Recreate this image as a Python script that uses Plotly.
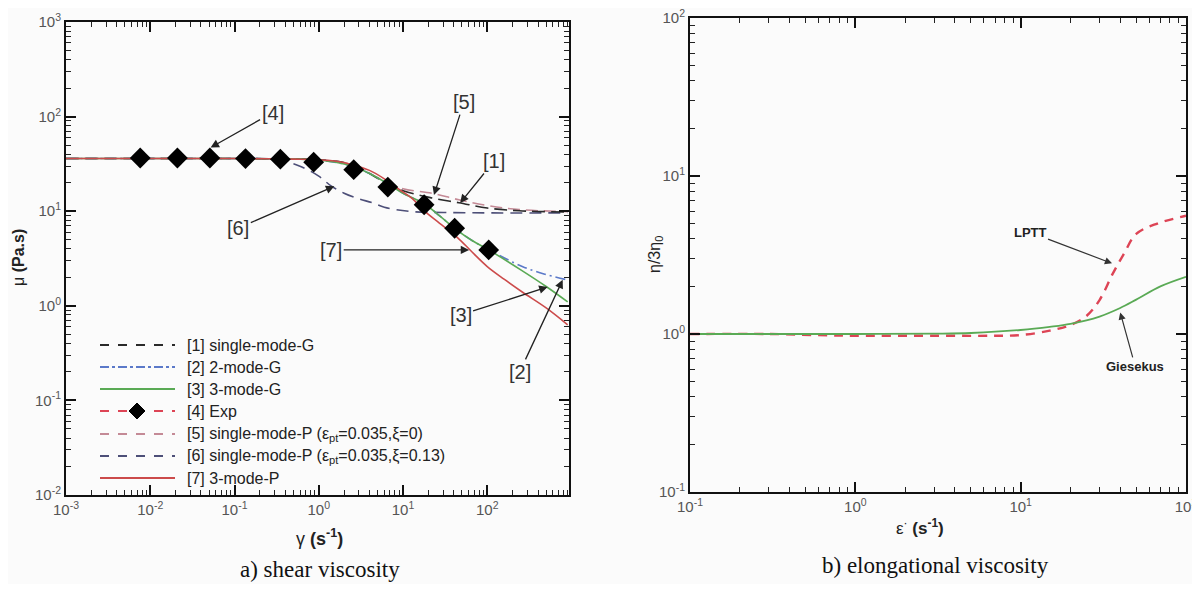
import math
import plotly.graph_objects as go

# ---------------- data: a) shear viscosity ----------------
s1_x = [0.001, 0.01, 0.1, 0.3, 1, 2.5, 5.6, 10, 22, 46, 100, 240, 900]
s1_y = [36, 36, 36, 35.8, 35, 31, 21, 16.5, 13.8, 12.3, 10.8, 10.1, 9.8]

s2_x = [0.001, 0.01, 0.1, 0.3, 0.6, 1, 1.7, 2.6, 4, 6.6, 10, 17.8, 27, 41, 66, 104, 160, 260, 450, 850]
s2_y = [36, 36, 36, 35.8, 35.5, 34.5, 32.5, 29.5, 25, 19.5, 15.5, 12, 9, 6.6, 4.9, 3.9, 3.2, 2.6, 2.2, 1.9]

s3_x = [0.001, 0.01, 0.1, 0.3, 0.6, 1, 1.7, 2.6, 4, 6.6, 10, 17.8, 27, 41, 66, 104, 250, 500, 900]
s3_y = [36, 36, 36, 35.8, 35.5, 34.5, 32.5, 29.5, 25, 19.5, 15.5, 12, 9, 6.6, 4.9, 3.9, 2.4, 1.6, 1.1]

exp_x = [0.0076, 0.021, 0.051, 0.135, 0.35, 0.87, 2.6, 6.6, 17.8, 41, 104]
exp_y = [36.5, 36.5, 36.5, 36, 35.5, 33, 27.5, 18, 11.7, 6.6, 3.9]

s5_x = [0.001, 0.01, 0.1, 0.3, 1, 2.5, 5.6, 10, 22, 46, 100, 240, 900]
s5_y = [36, 36, 36, 35.8, 35, 31, 21.5, 17.3, 15.5, 13.2, 11.5, 10.4, 9.9]

s6_x = [0.001, 0.01, 0.1, 0.27, 0.4, 0.62, 1, 1.4, 2, 3, 4.3, 6, 12.6, 30, 100, 900]
s6_y = [36, 36, 36, 35.5, 33.5, 29.5, 23.5, 18.5, 15.5, 13.5, 12.3, 11, 9.9, 9.7, 9.6, 9.6]

s7_x = [0.001, 0.01, 0.1, 0.3, 0.5, 1, 1.7, 2.5, 4, 6, 9, 13, 18, 27, 44, 66, 100, 160, 260, 500, 900]
s7_y = [36, 36, 36, 35.8, 35.5, 35, 33.5, 31, 27, 22, 17, 13.5, 10, 7.5, 5.3, 3.7, 2.6, 1.9, 1.4, 0.95, 0.63]

legend_labels = [
    "[1] single-mode-G",
    "[2] 2-mode-G",
    "[3] 3-mode-G",
    "[4] Exp",
    "[5] single-mode-P (ε<sub>pt</sub>=0.035,ξ=0)",
    "[6] single-mode-P (ε<sub>pt</sub>=0.035,ξ=0.13)",
    "[7] 3-mode-P",
]

# ---------------- data: b) elongational viscosity ----------------
gies_x = [0.1, 0.3, 1, 3, 5, 10, 15, 20, 30, 40, 50, 70, 100]
gies_y = [1.0, 1.0, 1.0, 1.005, 1.015, 1.06, 1.11, 1.16, 1.29, 1.46, 1.65, 2.0, 2.3]

lptt_x = [0.1, 0.3, 0.7, 1, 3, 7, 10, 15, 20, 25, 30, 36, 42, 50, 67, 100]
lptt_y = [1.0, 1.0, 0.98, 0.975, 0.975, 0.975, 0.985, 1.05, 1.14, 1.3, 1.64, 2.4, 3.2, 4.3, 5.0, 5.6]

# ---------------- styles ----------------
C1, C2, C3 = "#2a2a2a", "#5b79c9", "#5aaa55"
C4, C5, C6, C7 = "#dd4455", "#c48a96", "#4d4f78", "#cc4b4b"
OFF = 8                     # page body margin
FW, FH = 1200 - 2 * OFF, 592 - 2 * OFF

fig = go.Figure()

def add(x, y, color, dash, width, xa="x", ya="y", shape="linear"):
    fig.add_trace(go.Scatter(x=x, y=y, mode="lines", xaxis=xa, yaxis=ya,
                             line=dict(color=color, dash=dash, width=width, shape=shape),
                             showlegend=False, hoverinfo="skip"))

add(s6_x, s6_y, C6, "12px,7px", 1.6, shape="spline")
add(s5_x, s5_y, C5, "12px,6px", 1.6, shape="spline")
add(s1_x, s1_y, C1, "13px,6px", 1.6, shape="spline")
add(s2_x, s2_y, C2, "10px,4px,2px,4px", 1.6, shape="spline")
add(s3_x, s3_y, C3, "solid", 1.6, shape="spline")
add(s7_x, s7_y, C7, "solid", 1.6, shape="spline")
fig.add_trace(go.Scatter(x=exp_x, y=exp_y, mode="markers", xaxis="x", yaxis="y",
                         marker=dict(symbol="diamond", size=16, color="black"),
                         showlegend=False, hoverinfo="skip"))

add(lptt_x, lptt_y, C4, "9px,7px", 2.4, "x2", "y2", shape="spline")
add(gies_x, gies_y, C3, "solid", 1.8, "x2", "y2", shape="spline")

# ---------------- axes ----------------
def px2paper_x(p):
    return (p - OFF) / FW

def px2paper_y(p):
    return 1 - (p - OFF) / FH

def log_axis(lo, hi, domain, anchor):
    vals = [10 ** k for k in range(lo, hi + 1)]
    text = ["10<sup>%d</sup>" % k for k in range(lo, hi + 1)]
    minors = [m * 10 ** k for k in range(lo, hi + 1) for m in range(2, 10)]
    return dict(type="log", domain=domain, anchor=anchor, automargin=False,
                ticklabeloverflow="allow",
                tickvals=vals, ticktext=text, ticks="inside", ticklen=10, tickwidth=2,
                tickcolor="#111", mirror="ticks", showline=True, linecolor="#111",
                linewidth=2, showgrid=False, zeroline=False,
                tickfont=dict(family="Arial, Liberation Sans", size=15, color="#555"),
                minor=dict(tickvals=minors, ticks="inside", ticklen=5, tickwidth=1,
                           tickcolor="#222", showgrid=False))

xa = log_axis(-3, 3, [px2paper_x(66), px2paper_x(569)], "y")
xa["range"] = [-3, 2.97]
ya = log_axis(-2, 3, [px2paper_y(495), px2paper_y(22)], "x")
ya["range"] = [-2, 3]
xb = log_axis(-1, 2, [px2paper_x(690), px2paper_x(1186)], "y2")
xb["range"] = [-1, 2]
yb = log_axis(-1, 2, [px2paper_y(492), px2paper_y(18)], "x2")
yb["range"] = [-1, 2]

fig.update_layout(
    width=FW, height=FH, margin=dict(l=0, r=0, t=0, b=0, autoexpand=False),
    paper_bgcolor="#fbfbfb", plot_bgcolor="#fbfbfb",
    xaxis=xa, yaxis=ya, xaxis2=xb, yaxis2=yb, showlegend=False,
)

ann = []
shapes = []

lab_font = dict(family="Arial, Liberation Sans", size=20, color="#333")
arrows_left = [
    ("[4]", 0.052, 47, 62, -35),
    ("[6]", 1.53, 18.4, -96, 42),
    ("[7]", 61, 3.9, -138, 0),
    ("[5]", 23.3, 14.8, 30, -93),
    ("[1]", 47.6, 12.2, 34, -42),
    ("[3]", 520, 1.58, -87, 28),
    ("[2]", 785, 1.88, -43, 92),
]
for t, x, y, axp, ayp in arrows_left:
    ann.append(dict(text=t, x=math.log10(x), y=math.log10(y), xref="x", yref="y",
                    ax=axp, ay=ayp, showarrow=True, arrowhead=2, arrowsize=1.3,
                    arrowwidth=1.3, arrowcolor="#222", font=lab_font, standoff=0))

small_font = dict(family="Arial, Liberation Sans", size=13, color="#222")
ann.append(dict(text="<b>LPTT</b>", x=math.log10(35.7), y=math.log10(2.8), xref="x2", yref="y2",
                ax=-82, ay=-31, showarrow=True, arrowhead=2, arrowsize=1.2, arrowwidth=1.2,
                arrowcolor="#333", font=small_font))
ann.append(dict(text="<b>Giesekus</b>", x=math.log10(40), y=math.log10(1.37), xref="x2", yref="y2",
                ax=15, ay=54, showarrow=True, arrowhead=2, arrowsize=1.2, arrowwidth=1.2,
                arrowcolor="#333", font=small_font))

def label(text, px, py, font, angle=0):
    ann.append(dict(text=text, x=px2paper_x(px), y=px2paper_y(py), xref="paper", yref="paper",
                    xanchor="center", yanchor="middle", textangle=angle, showarrow=False,
                    font=font))

tfont = dict(family="Arial, Liberation Sans", size=16, color="#222")
label("μ <b>(Pa.s)</b>", 18, 258, tfont, -90)
label("γ <b>(s<sup>-1</sup>)</b>", 320, 537, dict(family="Arial, Liberation Sans", size=18, color="#222"))
label("η/3η<sub>0</sub>", 655, 255, tfont, -90)
label("ε<sup>·</sup> <b>(s<sup>-1</sup>)</b>", 920, 527, dict(family="Arial, Liberation Sans", size=17, color="#222"))
cfont = dict(family="Liberation Serif, Times New Roman", size=23, color="#111")
label("a) shear viscosity", 320, 569, cfont)
label("b) elongational viscosity", 935, 565, cfont)

# manual legend
leg_styles = [(C1, "dash"), (C2, "dashdot"), (C3, "solid"), (C4, "dash"),
              (C5, "dash"), (C6, "dash"), (C7, "solid")]
row_y = [345, 367, 389, 411, 434, 456, 478]
for (col, dsh), lab, py in zip(leg_styles, legend_labels, row_y):
    shapes.append(dict(type="line", xref="paper", yref="paper",
                       x0=px2paper_x(100), x1=px2paper_x(175), y0=px2paper_y(py), y1=px2paper_y(py),
                       line=dict(color=col, width=1.8, dash=dsh)))
    ann.append(dict(text=lab, x=px2paper_x(185), y=px2paper_y(py), xref="paper", yref="paper",
                    xanchor="left", yanchor="middle", showarrow=False,
                    font=dict(family="Arial, Liberation Sans", size=16, color="#222")))
cx, cy, r = 137, row_y[3], 8
shapes.append(dict(type="path", xref="paper", yref="paper",
                   path="M %f %f L %f %f L %f %f L %f %f Z" % (
                       px2paper_x(cx), px2paper_y(cy - r), px2paper_x(cx + r), px2paper_y(cy),
                       px2paper_x(cx), px2paper_y(cy + r), px2paper_x(cx - r), px2paper_y(cy)),
                   fillcolor="black", line=dict(color="black", width=1)))

fig.update_layout(annotations=ann, shapes=shapes)
fig.write_html("out.html")
